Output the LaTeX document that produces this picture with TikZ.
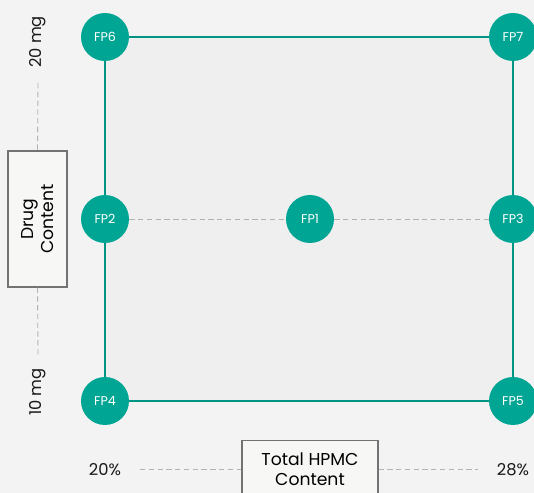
\documentclass[tikz,border=0pt]{standalone}
\usepackage{fontspec}
\setmainfont{Poppins}
\usetikzlibrary{positioning,calc}
\definecolor{teal1}{HTML}{00A593}
\definecolor{bgcol}{HTML}{F3F3F3}
\definecolor{sqcol}{HTML}{EFEFEF}
\definecolor{boxfill}{HTML}{F7F7F5}
\begin{document}
\begin{tikzpicture}[
			x=0.02cm, y=-0.02cm,
			font=\fontsize{9.3}{11}\selectfont,
			pt/.style={
				circle, fill=teal1, text=white,
				minimum size=0.96cm, inner sep=0pt,
				font=\fontsize{7.2}{8}\selectfont
			},
			axisbox/.style={
				rectangle, draw=black!55, fill=boxfill,
				align=center, inner sep=2pt, line width=0.6pt
			},
			boxlbl/.style={align=center, inner sep=0pt, font=\fontsize{9.8}{11.5}\selectfont},
			edge/.style={teal1!90!black, line width=0.65pt},
			guide/.style={densely dashed, black!30, line width=0.5pt},
			lbl/.style={text=black!90, inner sep=0pt}
			]
			
			%% ── Canvas ──────────────────────────────────────────────────────────
			\fill[bgcol] (0,0) rectangle (534,493);
			\useasboundingbox (0,0) rectangle (534,493);
			\fill[sqcol] (105,37) rectangle (513,401);
			
			%% ── Design points ───────────────────────────────────────────────────
			\node[pt] (fp6) at (105, 37) {FP6};
			\node[pt] (fp7) at (513, 37) {FP7};
			\node[pt] (fp2) at (105,219) {FP2};
			\node[pt] (fp1) at (310,219) {FP1};
			\node[pt] (fp3) at (513,219) {FP3};
			\node[pt] (fp4) at (105,401) {FP4};
			\node[pt] (fp5) at (513,401) {FP5};
			
			%% ── Square edges ────────────────────────────────────────────────────
			\draw[edge] (fp6) -- (fp7);
			\draw[edge] (fp7) -- (fp3);
			\draw[edge] (fp3) -- (fp5);
			\draw[edge] (fp5) -- (fp4);
			\draw[edge] (fp4) -- (fp2);
			\draw[edge] (fp2) -- (fp6);
			\draw[guide] (fp2) -- (fp1);
			\draw[guide] (fp1) -- (fp3);
			
			%% ── Vertical axis ───────────────────────────────────────────────────
			\node[axisbox, minimum width=1.18cm, minimum height=2.72cm] (drug) at (37.5,219) {};
			\node[boxlbl, rotate=90] (druglbl) at (drug.center) {Drug\\Content};
			\node[lbl, rotate=90] (hi) at (38, 42) {20 mg};
			\node[lbl, rotate=90] (lo) at (38,392) {10 mg};
			\coordinate (hiend) at (38, 83);
			\coordinate (loend) at (38,355);
			\draw[guide] (hiend) -- (drug.north);
			\draw[guide] (drug.south) -- (loend);
			
			%% ── Horizontal axis ─────────────────────────────────────────────────
			\node[axisbox, minimum width=2.72cm, minimum height=1.3cm, anchor=north] (hpmc) at (310,440) {};
			\node[boxlbl] (hpmclbl) at (310,469) {Total HPMC\\Content};
			\node[lbl] (left) at (105,470) {20\%};
			\node[lbl] (right) at (513,470) {28\%};
			\coordinate (leftend) at (140,469);
			\coordinate (rightend) at (478,469);
			\draw[guide] (leftend) -- (leftend -| hpmc.west);
			\draw[guide] (rightend -| hpmc.east) -- (rightend);
			
		\end{tikzpicture}
\end{document}
